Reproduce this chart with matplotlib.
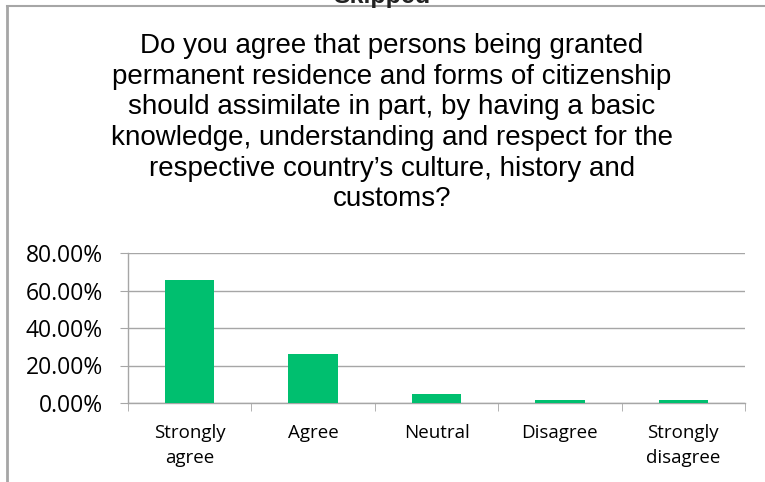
import numpy as np
import matplotlib.pyplot as plt
from matplotlib.lines import Line2D
from matplotlib.ticker import FixedLocator

# Survey responses (share of respondents)
categories = ["Strongly\nagree", "Agree", "Neutral", "Disagree", "Strongly\ndisagree"]
shares = [0.656, 0.261, 0.048, 0.014, 0.018]
y_ticks = [0.0, 0.2, 0.4, 0.6, 0.8]
y_labels = ["0.00%", "20.00%", "40.00%", "60.00%", "80.00%"]

title = ("Do you agree that persons being granted\n"
         "permanent residence and forms of citizenship\n"
         "should assimilate in part, by having a basic\n"
         "knowledge, understanding and respect for the\n"
         "respective country\u2019s culture, history and\n"
         "customs?")

grid_gray = "#A6A6A6"
bar_green = "#00BF6F"

fig = plt.figure(figsize=(7.65, 4.82), dpi=100)
ax = fig.add_axes([128 / 765, 1 - 403 / 482, 617 / 765, 150 / 482])

x = np.arange(len(categories))
ax.bar(x, shares, width=0.4, color=bar_green, zorder=3)

ax.set_xlim(-0.5, len(categories) - 0.5)
ax.set_ylim(0, 0.8)
ax.set_yticks(y_ticks)
ax.set_yticklabels(y_labels, fontsize=16.5, family="Open Sans")
ax.set_xticks(x)
ax.set_xticklabels(categories, fontsize=13.5, family="Open Sans", linespacing=1.5)
ax.xaxis.set_minor_locator(FixedLocator(np.arange(len(categories) + 1) - 0.5))

ax.tick_params(axis="y", length=6, color=grid_gray, pad=12)
ax.tick_params(axis="x", which="major", length=0, pad=15)
ax.tick_params(axis="x", which="minor", length=6, color=grid_gray)

ax.grid(axis="y", color=grid_gray, linewidth=1, zorder=0)
for side in ["top", "right"]:
    ax.spines[side].set_visible(False)
for side in ["left", "bottom"]:
    ax.spines[side].set_color(grid_gray)
    ax.spines[side].set_linewidth(1)

fig.text(392 / 765, 1 - 33 / 482, title, ha="center", va="top",
         fontsize=20, family="Liberation Sans", linespacing=1.235)

# header text clipped by the top edge
fig.text(382 / 765, 1 - 3 / 482, "Skipped", ha="center", va="baseline",
         fontsize=18, fontweight="bold", family="Liberation Sans", color="#222222")

# outer frame lines (top and left)
fig.add_artist(Line2D([7 / 765, 1], [1 - 6 / 482, 1 - 6 / 482],
                      transform=fig.transFigure, color=grid_gray, linewidth=1.5))
fig.add_artist(Line2D([7 / 765, 7 / 765], [0, 1 - 6 / 482],
                      transform=fig.transFigure, color=grid_gray, linewidth=2))

fig.savefig("out.png", dpi=100)
